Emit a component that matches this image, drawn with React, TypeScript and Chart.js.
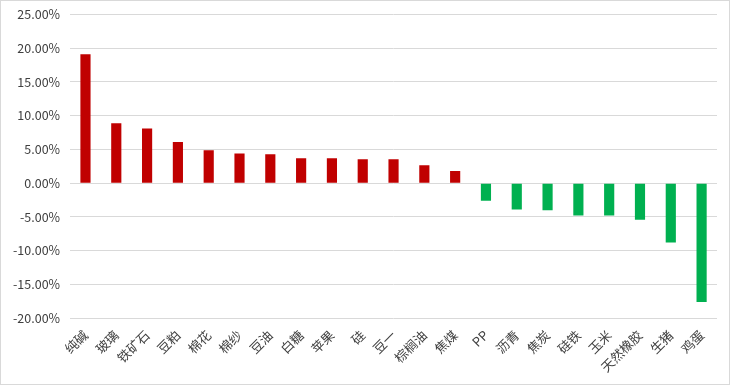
import React, { useEffect, useRef } from "react";
import { Chart, registerables } from "chart.js";

Chart.register(...registerables);

const categories = ["纯碱", "玻璃", "铁矿石", "豆粕", "棉花", "棉纱", "豆油", "白糖", "苹果", "硅", "豆一", "棕榈油", "焦煤", "PP", "沥青", "焦炭", "硅铁", "玉米", "天然橡胶", "生猪", "鸡蛋"];
const changes = [19.1, 8.9, 8.1, 6.1, 4.9, 4.4, 4.3, 3.7, 3.7, 3.55, 3.55, 2.65, 1.8, -2.6, -3.9, -4.0, -4.8, -4.8, -5.4, -8.8, -17.6];
const yMin = -20;
const yMax = 25;
const yStep = 5;

const RED = "#C00000";
const GREEN = "#00B050";

export default function App() {
  const ref = useRef<HTMLCanvasElement | null>(null);
  useEffect(() => {
    document.body.style.margin = "0";
    const ctx = ref.current!;
    const chart = new Chart(ctx, {
      type: "bar",
      data: {
        labels: categories,
        datasets: [
          {
            data: changes,
            backgroundColor: changes.map((v) => (v >= 0 ? RED : GREEN)),
            barPercentage: 0.33,
            categoryPercentage: 1,
          },
        ],
      },
      options: {
        animation: false,
        responsive: false,
        maintainAspectRatio: false,
        layout: { padding: { left: 2, right: 12, top: 0, bottom: 0 } },
        plugins: { legend: { display: false }, tooltip: { enabled: false } },
        scales: {
          x: {
            grid: { display: false, drawTicks: false },
            border: { display: false },
            ticks: {
              color: "#404040",
              font: { family: "'Noto Sans CJK SC', sans-serif", size: 13 },
              minRotation: 45,
              maxRotation: 45,
              autoSkip: false,
              padding: 9,
            },
          },
          y: {
            min: yMin,
            max: yMax,
            grid: { color: "#d9d9d9", drawTicks: false },
            border: { display: false },
            ticks: {
              stepSize: yStep,
              color: "#404040",
              padding: 10,
              font: { family: "'Noto Sans CJK SC', sans-serif", size: 12.5 },
              callback: (v: any) => Number(v).toFixed(2) + "%",
            },
          },
        },
      },
    });
    return () => chart.destroy();
  }, []);
  return (
    <div
      style={{
        position: "absolute",
        left: 0,
        top: 0,
        width: 730,
        height: 385,
        border: "1px solid #d9d9d9",
        boxSizing: "border-box",
        background: "#fff",
      }}
    >
      <canvas
        ref={ref}
        width={728}
        height={387}
        style={{ display: "block", position: "absolute", left: 0, top: -4 }}
      />
    </div>
  );
}
